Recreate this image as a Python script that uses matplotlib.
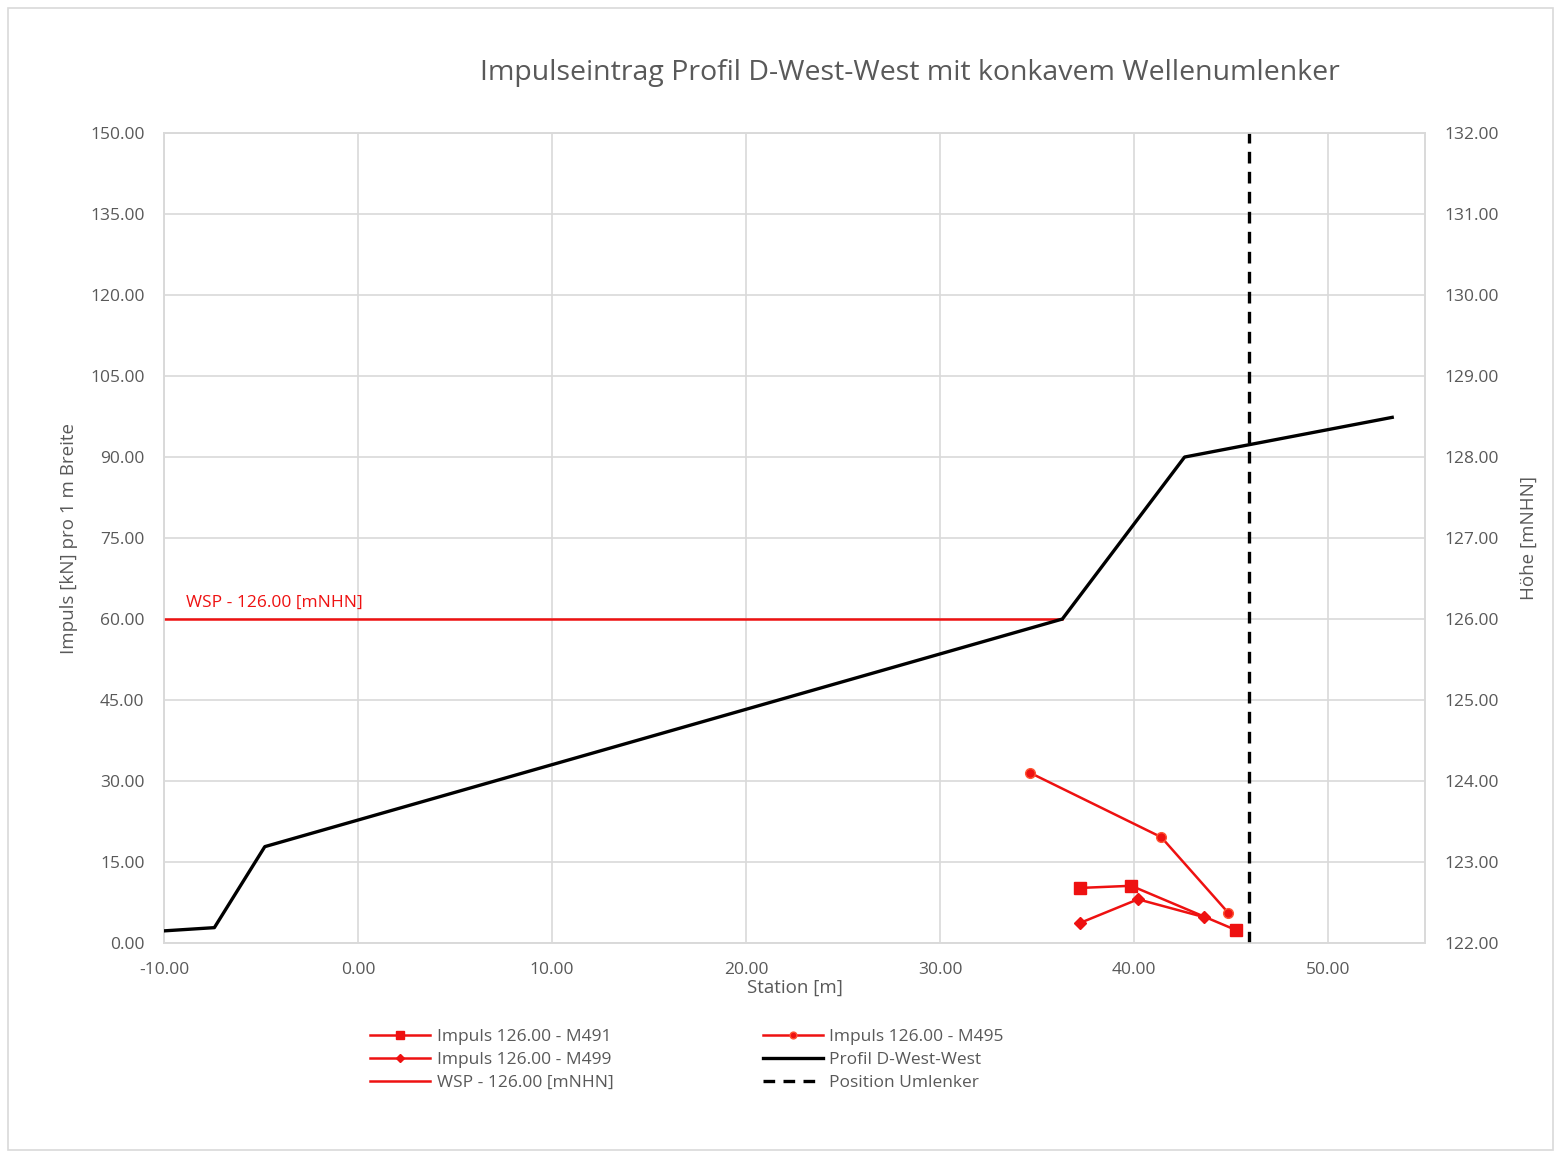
import numpy as np
import matplotlib
matplotlib.use('Agg')
import matplotlib.pyplot as plt
from matplotlib.patches import Rectangle
from matplotlib.ticker import FormatStrFormatter

plt.rcParams['font.family'] = ['Open Sans', 'DejaVu Sans']

# Impulse series (station [m], impulse [kN per 1 m width])
m491_x = [37.2, 39.85, 45.25]
m491_y = [10.2, 10.6, 2.4]
m495_x = [34.65, 41.4, 44.85]
m495_y = [31.5, 19.6, 5.6]
m499_x = [37.2, 40.2, 43.6]
m499_y = [3.7, 8.1, 4.8]

# Profile (station [m], height [mNHN])
profil_x = [-10.0, -7.4, -4.8, 36.3, 42.6, 53.3]
profil_h = [122.15, 122.19, 123.19, 126.0, 128.0, 128.49]

# Water level and deflector position
wsp_x = [-10.0, 36.3]
wsp_impuls = 60.0
umlenker_x = 45.9

grey = '#595959'
gridc = '#d9d9d9'

fig = plt.figure(figsize=(15.61, 11.52), dpi=100)
ax = fig.add_axes([0.105, 0.1814, 0.808, 0.7031])
ax2 = ax.twinx()

# Impulse series on left axis
ax.plot(m491_x, m491_y, color='#ee1111', lw=1.8, marker='s', ms=8, label='Impuls 126.00 - M491', zorder=5)
ax.plot(m499_x, m499_y, color='#ee1111', lw=1.8, marker='D', ms=6, label='Impuls 126.00 - M499', zorder=5)
ax.plot(wsp_x, [wsp_impuls, wsp_impuls], color='#ee1111', lw=1.8, label='WSP - 126.00 [mNHN]', zorder=4)
ax.plot(m495_x, m495_y, color='#ee1111', lw=1.8, marker='o', ms=7, mec='#ff5533',
        label='Impuls 126.00 - M495', zorder=5)
ax.text(-8.85, wsp_impuls + 2.3, 'WSP - 126.00 [mNHN]', color='#ee1111', fontsize=12.5)

# Profile on right axis
ax2.plot(profil_x, profil_h, color='black', lw=2.4, label='Profil D-West-West', zorder=3)
ax2.axvline(umlenker_x, color='black', lw=2.4, ls=(0, (3.5, 2.5)), label='Position Umlenker')

ax.set_xlim(-10, 55)
ax.set_ylim(0, 150)
ax2.set_ylim(122, 132)
ax.set_xticks(np.arange(-10, 51, 10))
ax.set_yticks(np.arange(0, 151, 15))
ax2.set_yticks(np.arange(122, 133, 1))
ax.xaxis.set_major_formatter(FormatStrFormatter('%.2f'))
ax.yaxis.set_major_formatter(FormatStrFormatter('%.2f'))
ax2.yaxis.set_major_formatter(FormatStrFormatter('%.2f'))

ax.grid(True, color=gridc, lw=1.2)
ax.set_axisbelow(True)
for a in (ax, ax2):
    for s in a.spines.values():
        s.set_color(gridc)
        s.set_linewidth(1.2)
    a.tick_params(length=0, colors=grey, labelsize=12.5)
ax.tick_params(axis='y', pad=14)
ax.tick_params(axis='x', pad=14)
ax2.tick_params(axis='y', pad=14)

ax.set_xlabel('Station [m]', color=grey, fontsize=13.5)
ax.xaxis.set_label_coords(0.5, -0.044)
ax.set_ylabel('Impuls [kN] pro 1 m Breite', color=grey, fontsize=13.5)
ax.yaxis.set_label_coords(-0.068, 0.5)
ax2.set_ylabel('Höhe [mNHN]', color=grey, fontsize=13.5)
ax2.yaxis.set_label_coords(1.075, 0.5)

fig.text(0.583, 0.937, 'Impulseintrag Profil D-West-West mit konkavem Wellenumlenker',
         ha='center', va='center', fontsize=20.5, color=grey)

h1, l1 = ax.get_legend_handles_labels()
h2, l2 = ax2.get_legend_handles_labels()
handles = h1 + h2
labels = l1 + l2
leg = fig.legend(handles, labels, ncol=2, loc='center', bbox_to_anchor=(0.44, 0.08),
                 frameon=False, fontsize=12.5, handlelength=3.45, columnspacing=8.6,
                 labelspacing=0.4, handletextpad=0.4, markerscale=0.7)
for t in leg.get_texts():
    t.set_color(grey)

fig.patches.append(Rectangle((0.005, 0.002), 0.99, 0.991, transform=fig.transFigure,
                             fill=False, edgecolor='#d9d9d9', lw=1.2))

plt.savefig('out.png', dpi=100)
